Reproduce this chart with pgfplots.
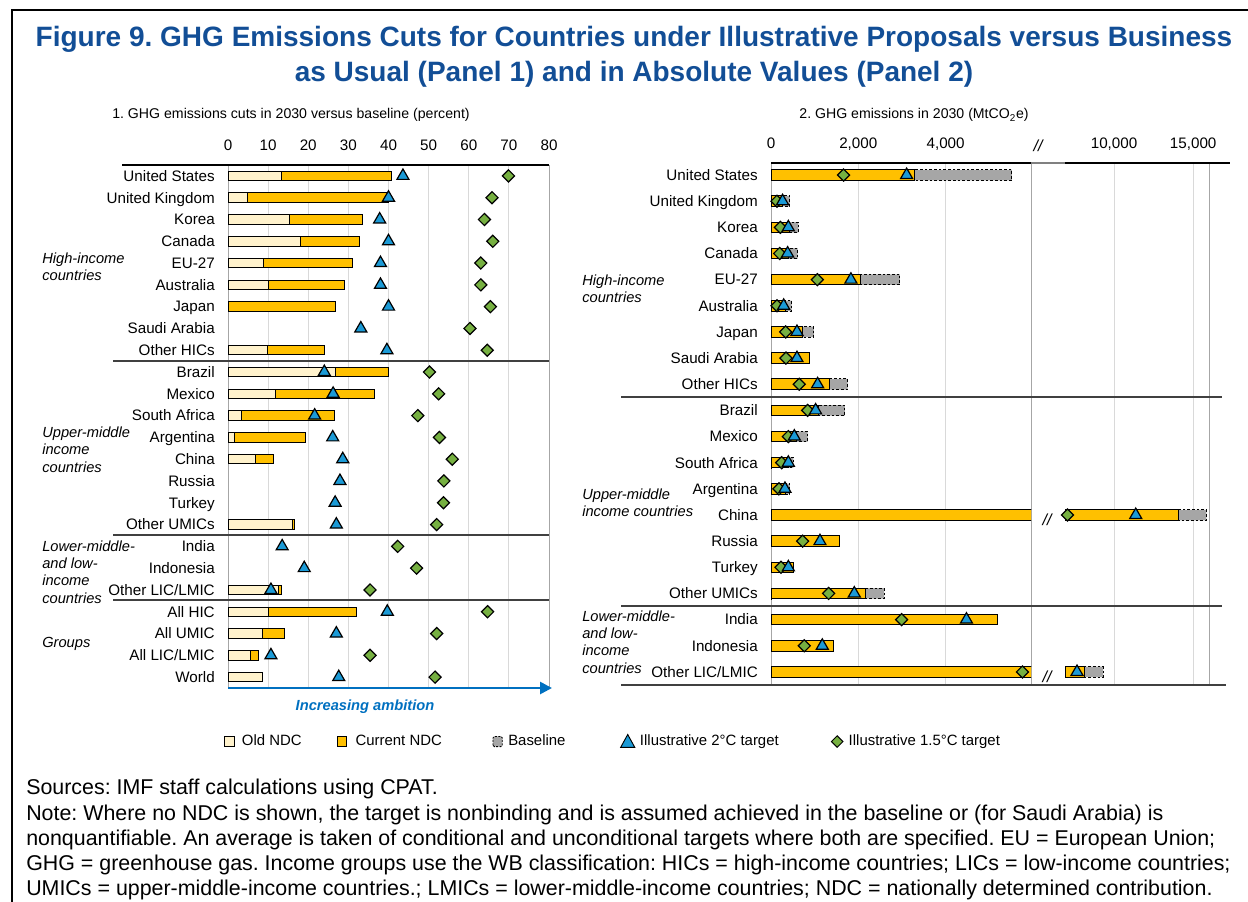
\documentclass[border=0pt]{standalone}
\usepackage{fontspec}
\setmainfont{Liberation Sans}
\usepackage{pgfplots}
\pgfplotsset{compat=1.18}
\usepackage{pgfplotstable}
\usetikzlibrary{arrows.meta}
\frenchspacing

\definecolor{oldndc}{HTML}{FFF2CC}
\definecolor{curndc}{HTML}{FFC000}
\definecolor{basegray}{HTML}{A6A6A6}
\definecolor{tri}{HTML}{1B9AD6}
\definecolor{dia}{HTML}{76B041}
\definecolor{titleblue}{HTML}{124E96}
\definecolor{ambition}{HTML}{0070C0}
\definecolor{gridgray}{HTML}{D9D9D9}
\definecolor{bordergray}{HTML}{A6A6A6}
\definecolor{sepgray}{HTML}{404040}

% panel 1: cuts versus baseline, percent (row 0 = United States)
\pgfplotstableread{
row old cur two onefive
0 13.3 40.7 43.6 69.9
1 4.9 40.0 40.0 65.8
2 15.3 33.5 37.8 63.9
3 18.0 32.7 40.0 66.0
4 8.9 31.0 38.0 63.0
5 10.2 29.1 38.0 63.0
6 nan 26.9 40.0 65.4
7 nan nan 33.1 60.3
8 9.8 24.0 39.6 64.6
9 26.9 39.9 24.0 50.2
10 11.9 36.5 26.2 52.5
11 3.3 26.5 21.6 47.3
12 1.5 19.4 26.1 52.7
13 6.9 11.3 28.6 55.9
14 nan nan 27.9 53.8
15 nan nan 26.7 53.7
16 16.0 16.5 27.0 52.0
17 nan nan 13.5 42.3
18 nan nan 19.0 47.0
19 12.6 13.3 10.7 35.4
20 10.1 32.0 39.7 64.7
21 8.6 14.2 27.0 52.0
22 5.5 7.7 10.7 35.4
23 8.6 nan 27.6 51.6
}\cuts

% panel 2: emissions in 2030, MtCO2e
\pgfplotstableread{
row base cur two onefive
0 5520 3281 3107 1663
1 435 265 265 137
2 626 420 397 214
3 610 410 381 198
4 2953 2040 1831 1061
5 473 335 290 137
6 984 725 595 336
7 nan 877 595 343
8 1755 1335 1068 648
9 1694 1083 1022 839
10 839 587 534 397
11 511 410 397 244
12 435 340 320 183
13 15830 14060 11370 7057
14 nan 1579 1122 725
15 nan 526 397 229
16 2594 2175 1908 1320
17 nan 5182 4478 2992
18 nan 1442 1175 763
19 9304 8100 7658 5761
}\levels

\pgfplotsset{
  panel/.style={
    scale only axis, y dir=reverse, clip=true,
    axis line style={draw=none},
    major tick length=0pt,
    xticklabel pos=upper,
    scaled x ticks=false,
    /pgf/number format/assume math mode=true,
    /pgf/number format/1000 sep={,},
    tick label style={font=\fontsize{11.4}{13}\selectfont},
    xmajorgrids, grid style={gridgray, line width=0.75pt},
    extra x tick style={grid style={bordergray, line width=0.75pt}},
    xticklabel style={anchor=base, yshift=10.8pt},
    yticklabel style={anchor=base east, inner sep=0pt, xshift=-9.75pt, yshift=-4pt},
  },
  curbar/.style={xbar, bar shift=0pt, fill=curndc, draw=black, line width=0.75pt},
  oldbar/.style={xbar, bar shift=0pt, fill=oldndc, draw=black, line width=0.75pt},
  basebar/.style={xbar, bar shift=0pt, fill=basegray, draw=black, line width=0.75pt, dash pattern=on 2pt off 1.5pt},
  twomark/.style={only marks, mark=triangle*, mark size=5.2pt, mark options={fill=tri, draw=black, line width=0.9pt, solid}},
  onefivemark/.style={only marks, mark=square*, mark size=3.2pt, mark options={rotate=45, fill=dia, draw=black, line width=0.9pt, solid}},
}

\begin{document}
\begin{tikzpicture}[x=0.75pt, y=-0.75pt]
\useasboundingbox (0,0) rectangle (1248,902);
\coordinate (p1) at (228,688);
\coordinate (p2) at (771,685);
\coordinate (p3) at (1065,685);

% frame
\draw[line width=2pt] (12,960) -- (12,10) -- (1300,10);

% title
\node[anchor=base, inner sep=0pt, text=titleblue, font=\bfseries\fontsize{21}{25}\selectfont] at (634,47)
  {Figure 9. GHG Emissions Cuts for Countries under Illustrative Proposals versus Business};
\node[anchor=base, inner sep=0pt, text=titleblue, font=\bfseries\fontsize{21}{25}\selectfont] at (634,82)
  {as Usual (Panel 1) and in Absolute Values (Panel 2)};

% panel titles
\node[anchor=base, inner sep=0pt, font=\fontsize{10.6}{12}\selectfont] at (291,119)
  {1. GHG emissions cuts in 2030 versus baseline (percent)};
\node[anchor=base, inner sep=0pt, font=\fontsize{10.6}{12}\selectfont] at (914,119)
  {2. GHG emissions in 2030 (MtCO\textsubscript{2}e)};

% ---------- panel 1 ----------
\begin{axis}[panel, at={(p1)}, anchor=south west,
  width=240.75pt, height=392.25pt,
  xmin=0, xmax=80, ymin=-0.5, ymax=23.5,
  xtick={10,20,...,70}, extra x ticks={0,80},
  ytick={0,...,23},
  yticklabels={United States, United Kingdom, Korea, Canada, EU-27, Australia, Japan,
    Saudi Arabia, Other HICs, Brazil, Mexico, South Africa, Argentina, China, Russia,
    Turkey, Other UMICs, India, Indonesia, Other LIC/LMIC, All HIC, All UMIC,
    All LIC/LMIC, World},
  legend columns=5,
  legend style={at={(axis description cs:-0.0125,-0.1013)}, anchor=west, draw=none, fill=none, inner sep=0pt,
    column sep=0pt, nodes={inner sep=0pt, font=\fontsize{11.2}{13}\selectfont}},
]
\addlegendimage{legend image code/.code={
  \draw[fill=oldndc, draw=black, line width=0.6pt] (0pt,-3.8pt) rectangle (7pt,3.8pt);
  \path (0pt,0pt) (12.75pt,0pt);}}
\addlegendentry{\makebox[71.25pt][l]{Old NDC}}
\addlegendimage{legend image code/.code={
  \draw[fill=curndc, draw=black, line width=0.6pt] (0pt,-3.8pt) rectangle (7pt,3.8pt);
  \path (0pt,0pt) (13.5pt,0pt);}}
\addlegendentry{\makebox[102.75pt][l]{Current NDC}}
\addlegendimage{legend image code/.code={
  \draw[fill=basegray, draw=black, line width=0.6pt, dash pattern=on 1.5pt off 1pt, rounded corners=1pt] (0pt,-3.8pt) rectangle (7pt,3.8pt);
  \path (0pt,0pt) (11.25pt,0pt);}}
\addlegendentry{\makebox[84pt][l]{Baseline}}
\addlegendimage{legend image code/.code={
  \draw[fill=tri, draw=black, line width=0.7pt] (0pt,-4.3pt) -- (10.5pt,-4.3pt) -- (5.25pt,5.3pt) -- cycle;
  \path (0pt,0pt) (14.25pt,0pt);}}
\addlegendentry{\makebox[143.25pt][l]{Illustrative 2°C target}}
\addlegendimage{legend image code/.code={
  \draw[fill=dia, draw=black, line width=0.7pt] (0pt,0pt) -- (4.3pt,4.3pt) -- (8.6pt,0pt) -- (4.3pt,-4.3pt) -- cycle;
  \path (0pt,0pt) (12.75pt,0pt);}}
\addlegendentry{Illustrative 1.5°C target}

\addplot[curbar, bar width=7.1pt, forget plot] table[x=cur, y=row] {\cuts};
\addplot[oldbar, bar width=7.1pt, forget plot] table[x=old, y=row] {\cuts};
\addplot[onefivemark, forget plot] table[x=onefive, y=row] {\cuts};
\addplot[twomark, forget plot] table[x=two, y=row] {\cuts};
\end{axis}

% ---------- panel 2, left of the break ----------
\begin{axis}[panel, at={(p2)}, anchor=south west,
  width=195pt, height=391.5pt,
  xmin=0, xmax=5957, ymin=-0.46, ymax=19.5,
  xtick={2000,4000}, extra x ticks={0,5957}, extra x tick labels={0,{}},
  ytick={0,...,19},
  yticklabels={United States, United Kingdom, Korea, Canada, EU-27, Australia, Japan,
    Saudi Arabia, Other HICs, Brazil, Mexico, South Africa, Argentina, China, Russia,
    Turkey, Other UMICs, India, Indonesia, Other LIC/LMIC},
]
\addplot[basebar, bar width=7.9pt] table[x=base, y=row] {\levels};
\addplot[curbar, bar width=7.9pt] table[x=cur, y=row] {\levels};
\addplot[onefivemark] table[x=onefive, y=row] {\levels};
\addplot[twomark] table[x=two, y=row] {\levels};
\end{axis}

% ---------- panel 2, right of the break (only values above the break) ----------
\begin{axis}[panel, at={(p3)}, anchor=south west,
  width=108pt, height=391.5pt,
  xmin=6900, xmax=16000, ymin=-0.46, ymax=19.5,
  xtick={10000,15000}, extra x ticks={16000}, extra x tick labels={},
  ytick=\empty,
  restrict x to domain=6900:20000,
]
\addplot[basebar, bar width=7.9pt] table[x=base, y=row] {\levels};
\addplot[curbar, bar width=7.9pt] table[x=cur, y=row] {\levels};
\addplot[onefivemark] table[x=onefive, y=row] {\levels};
\addplot[twomark] table[x=two, y=row] {\levels};
\end{axis}

% axis lines and group separators
\draw[black, line width=1.2pt] (122,165) -- (549,165);
\draw[sepgray, line width=0.9pt] (113,361) -- (549,361) (113,535) -- (549,535) (113,600) -- (549,600);
\draw[black, line width=1.2pt] (771,163) -- (1031,163) (1065,163) -- (1230,163);
\draw[gray, line width=1.2pt] (1031,163) -- (1065,163);
\draw[sepgray, line width=0.9pt] (621,397) -- (1222,397) (621,606) -- (1222,606) (621,685) -- (1226,685);

% axis break marks
\node[font=\itshape\fontsize{12}{14}\selectfont] at (1038,146) {//};
\node[font=\itshape\fontsize{12}{14}\selectfont] at (1047,520) {//};
\node[font=\itshape\fontsize{12}{14}\selectfont] at (1047,677) {//};

% ambition arrow
\draw[ambition, line width=2pt, -{Triangle[length=9pt, width=9pt]}] (228,688) -- (552,688);
\node[text=ambition, font=\bfseries\itshape\fontsize{11}{13}\selectfont] at (365,707) {Increasing ambition};

% group labels
\begin{scope}[every node/.style={anchor=west, align=left, inner sep=0pt, font=\itshape\fontsize{11}{13.1}\selectfont}]
\node at (42,267) {High-income\\countries};
\node at (42,449.5) {Upper-middle\\income\\countries};
\node at (42,572) {Lower-middle-\\and low-\\income\\countries};
\node at (42,644) {Groups};
\node at (582,288.5) {High-income\\countries};
\node at (582,502.5) {Upper-middle\\income countries};
\node at (582,642) {Lower-middle-\\and low-\\income\\countries};
\end{scope}

% notes
\begin{scope}[every node/.style={anchor=base west, inner sep=0pt, font=\fontsize{16.05}{19}\selectfont}]
\node at (26,794) {Sources: IMF staff calculations using CPAT.};
\node at (26,820) {Note: Where no NDC is shown, the target is nonbinding and is assumed achieved in the baseline or (for Saudi Arabia) is};
\node at (26,845) {nonquantifiable. An average is taken of conditional and unconditional targets where both are specified. EU = European Union;};
\node at (26,870) {GHG = greenhouse gas. Income groups use the WB classification: HICs = high-income countries; LICs = low-income countries;};
\node at (26,895) {UMICs = upper-middle-income countries.; LMICs = lower-middle-income countries; NDC = nationally determined contribution.};
\end{scope}
\end{tikzpicture}
\end{document}
